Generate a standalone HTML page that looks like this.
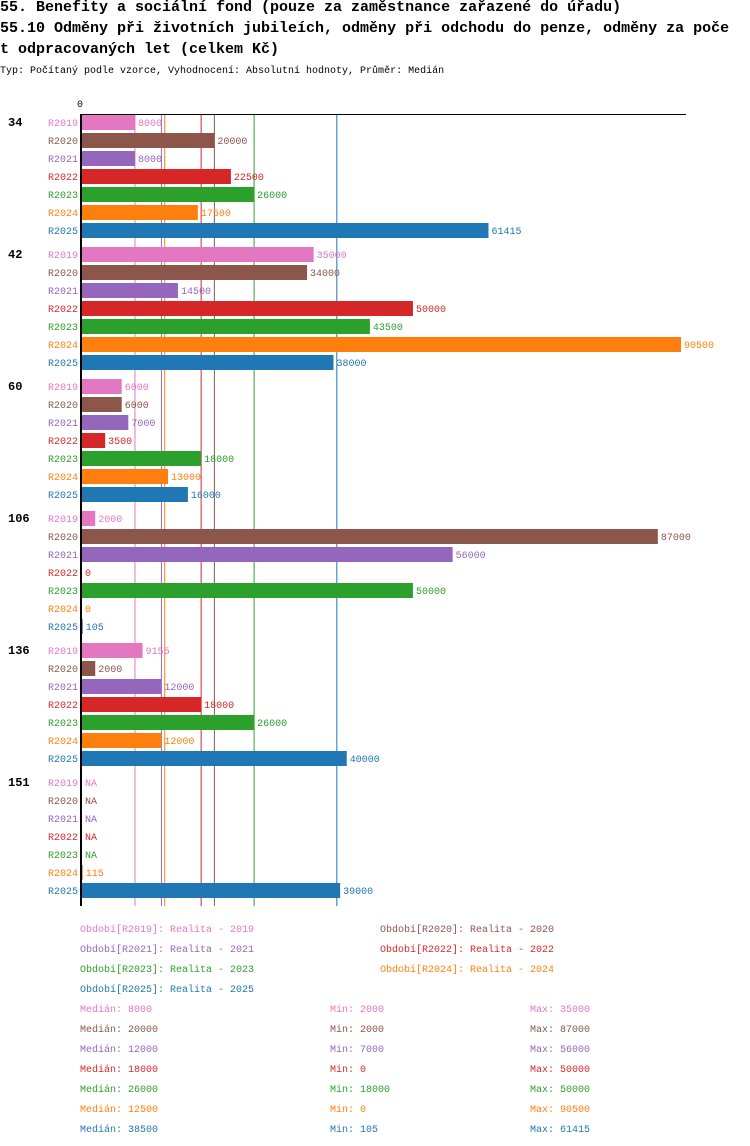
<!DOCTYPE html>
<html><head><meta charset="utf-8"><style>
body{margin:0;background:#fff;width:750px;height:1146px;overflow:hidden;font-family:"Liberation Mono",monospace}
.t{position:absolute;left:0;font-weight:bold;font-size:15px;white-space:nowrap;color:#000}
</style></head><body>
<div class="t" style="top:-1px">55. Benefity a sociální fond (pouze za zaměstnance zařazené do úřadu)</div>
<div class="t" style="top:20px">55.10 Odměny při životních jubileích, odměny při odchodu do penze, odměny za poče</div>
<div class="t" style="top:41px">t odpracovaných let (celkem Kč)</div>
<div style="position:absolute;top:66px;left:0;font-size:10px;white-space:nowrap">Typ: Počítaný podle vzorce, Vyhodnocení: Absolutní hodnoty, Průměr: Medián</div>
<svg id="c" width="750" height="1146" style="position:absolute;left:0;top:0" font-family="Liberation Mono, monospace" font-size="10"></svg>
<script>
const groups=["34","42","60","106","136","151"];
const series=["R2019","R2020","R2021","R2022","R2023","R2024","R2025"];
const colors=["#e377c2","#8c564b","#9467bd","#d62728","#2ca02c","#ff7f0e","#1f77b4"];
const values=[
[8000,20000,8000,22500,26000,17500,61415],
[35000,34000,14500,50000,43500,90500,38000],
[6000,6000,7000,3500,18000,13000,16000],
[2000,87000,56000,0,50000,0,105],
[9155,2000,12000,18000,26000,12000,40000],
[null,null,null,null,null,115,39000]];
const medians=[8000,20000,12000,18000,26000,12500,38500];
const mins=[2000,2000,7000,0,18000,0,105];
const maxs=[35000,87000,56000,50000,50000,90500,61415];
const legendNames=["Realita - 2019","Realita - 2020","Realita - 2021","Realita - 2022","Realita - 2023","Realita - 2024","Realita - 2025"];
const svg=document.getElementById('c');const NS="http://www.w3.org/2000/svg";
const x0=82,sc=599/90500,top0=114,row=18,gap=6;
const X=v=>x0+v*sc;
function mk(t,a,txt){const e=document.createElementNS(NS,t);for(const k in a)e.setAttribute(k,a[k]);if(txt!==undefined)e.textContent=txt;svg.appendChild(e);return e;}
const bottom=top0+groups.length*(7*row+gap);
let e;
medians.forEach((m,i)=>{
 e=mk('line',{x1:X(m),y1:top0,x2:X(m),y2:bottom,stroke:colors[i],'stroke-width':1});
 
});
e=mk('line',{x1:80,y1:top0+0.5,x2:686,y2:top0+0.5,stroke:'#000','stroke-width':1});

e=mk('text',{x:77,y:107},'0');
groups.forEach((g,gi)=>{
 const gy=top0+1+gi*(7*row+gap);
 e=mk('text',{x:8,y:gy+11,'font-weight':'bold','font-size':'12'},g);
 
 series.forEach((s,si)=>{
  const y=gy+si*row;const v=values[gi][si];
  e=mk('text',{x:78,y:y+11,'text-anchor':'end',fill:colors[si]},s);
  
  let end=x0;
  if(v!==null&&v>0){end=X(v);
   e=mk('rect',{x:x0,y:y,width:end-x0,height:15,fill:colors[si]});
   }
  e=mk('text',{x:end+3,y:y+11,fill:colors[si]},v===null?'NA':String(v));
  
 });
});
e=mk('rect',{x:80,y:top0,width:2,height:bottom-top0,fill:'#000'});

series.forEach((s,i)=>{
 const col=i%2,r=Math.floor(i/2);
 e=mk('text',{x:80+col*300,y:932+r*20,fill:colors[i]},'Období['+s+']: '+legendNames[i]);
 
 const y=1012+i*20;
 e=mk('text',{x:80,y:y,fill:colors[i]},'Medián: '+medians[i]);
 e=mk('text',{x:330,y:y,fill:colors[i]},'Min: '+mins[i]);
 e=mk('text',{x:530,y:y,fill:colors[i]},'Max: '+maxs[i]);
});
</script>
</body></html>
